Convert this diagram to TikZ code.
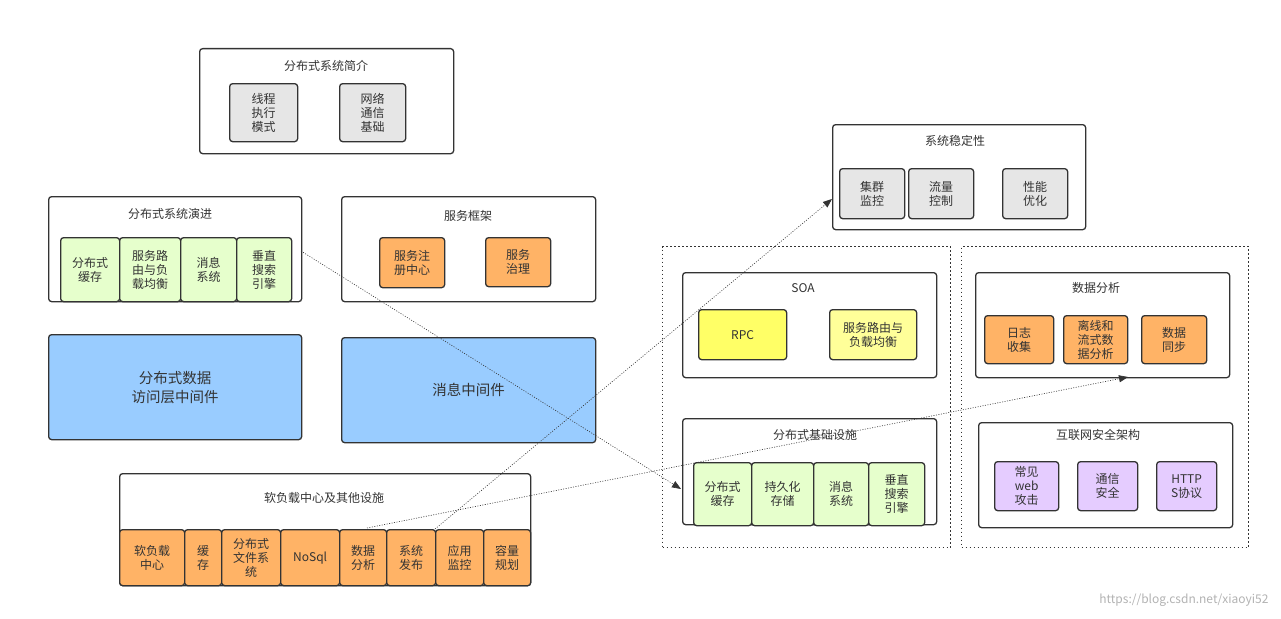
\documentclass[tikz,border=0pt]{standalone}
\usepackage{fontspec}
\setmainfont{Noto Sans CJK SC}
\usetikzlibrary{arrows.meta}
\definecolor{gr}{HTML}{E6E6E6}
\definecolor{gn}{HTML}{E6FFCC}
\definecolor{og}{HTML}{FFB366}
\definecolor{bl}{HTML}{99CCFF}
\definecolor{ye}{HTML}{FFFF66}
\definecolor{ly}{HTML}{FFFF99}
\definecolor{pu}{HTML}{E5CCFF}
\definecolor{ln}{HTML}{333333}
\newcommand\B[7]{\node[#1,anchor=north west,minimum width={(#5-#3)*1pt},minimum height={(#6-#4)*1pt}] (#2) at (#3pt,-#4pt) {#7};}
\newcommand\T[4]{\node[ttl] (#1) at (#2pt,-#3pt) {#4};}
\begin{document}
\begin{tikzpicture}[
  bx/.style={draw=ln,line width=1.3pt,rounded corners=3pt,fill=white,inner sep=0pt},
  ch/.style={draw=ln,line width=1.3pt,rounded corners=3pt,inner sep=1pt,align=center,font=\fontsize{12}{14}\selectfont,text=ln},
  ttl/.style={font=\fontsize{12}{14}\selectfont,text=ln},
  dbox/.style={draw=ln,line width=1.3pt,dash pattern=on 1.5pt off 2.5pt,inner sep=0pt},
  conn/.style={draw=ln,line width=0.6pt,dash pattern=on 1pt off 1.5pt,-{Triangle[length=9pt,width=7pt]}}
]
\useasboundingbox (0,0) rectangle (1281pt,-618pt);
% group A
\B{bx}{A}{199}{48}{453}{153}{}
\T{At}{326}{66}{分布式系统简介}
\B{ch,fill=gr}{A1}{229}{83}{297}{141}{线程\\执行\\模式}
\B{ch,fill=gr}{A2}{339}{83}{405}{141}{网络\\通信\\基础}
% group B
\B{bx}{Bx}{48}{196}{301}{301}{}
\T{Bt}{170}{214}{分布式系统演进}
\B{ch,fill=gn}{B1}{60}{237}{119}{301}{分布式\\缓存}
\B{ch,fill=gn}{B2}{119}{237}{180}{301}{服务路\\由与负\\载均衡}
\B{ch,fill=gn}{B3}{180}{237}{236}{301}{消息\\系统}
\B{ch,fill=gn}{B4}{236}{237}{291}{301}{垂直\\搜索\\引擎}
% group C
\B{bx}{Cx}{341}{196}{595}{301}{}
\T{Ct}{468}{216}{服务框架}
\B{ch,fill=og}{C1}{379}{237}{444}{287}{服务注\\册中心}
\B{ch,fill=og}{C2}{485}{237}{550}{286}{服务\\治理}
% blue
\B{ch,fill=bl,font=\fontsize{14.5}{19}\selectfont}{D}{48}{334}{301}{439}{分布式数据\\访问层中间件}
\B{ch,fill=bl,font=\fontsize{14.5}{19}\selectfont}{E}{341}{337}{595}{442}{消息中间件}
% group F
\B{bx}{Fx}{119}{473}{530}{585}{}
\T{Ft}{324}{498}{软负载中心及其他设施}
\B{ch,fill=og}{F1}{119}{529}{184}{585}{软负载\\中心}
\B{ch,fill=og}{F2}{184}{529}{221}{585}{缓\\存}
\B{ch,fill=og}{F3}{221}{529}{280}{585}{分布式\\文件系\\统}
\B{ch,fill=og}{F4}{280}{529}{339}{585}{NoSql}
\B{ch,fill=og}{F5}{339}{529}{386}{585}{数据\\分析}
\B{ch,fill=og}{F6}{386}{529}{435}{585}{系统\\发布}
\B{ch,fill=og}{F7}{435}{529}{483}{585}{应用\\监控}
\B{ch,fill=og}{F8}{483}{529}{530}{585}{容量\\规划}
% group G
\B{bx}{Gx}{832}{124}{1085}{229}{}
\T{Gt}{955}{141}{系统稳定性}
\B{ch,fill=gr}{G1}{839}{168}{904}{218}{集群\\监控}
\B{ch,fill=gr}{G2}{908}{168}{973}{218}{流量\\控制}
\B{ch,fill=gr}{G3}{1002}{168}{1067}{218}{性能\\优化}
% dotted regions
\B{dbox}{L}{662}{246}{950}{547}{}
\B{dbox}{R}{961}{246}{1248}{547}{}
% SOA
\B{bx}{Sx}{682}{272}{936}{377}{}
\T{St}{803}{288}{SOA}
\B{ch,fill=ye}{S1}{698}{309}{786}{359}{RPC}
\B{ch,fill=ly}{S2}{829}{309}{916}{359}{服务路由与\\负载均衡}
% infra
\B{bx}{Ix}{682}{418}{936}{524}{}
\T{It}{815}{435}{分布式基础设施}
\B{ch,fill=gn}{I1}{693}{462}{751}{525}{分布式\\缓存}
\B{ch,fill=gn}{I2}{751}{462}{813}{525}{持久化\\存储}
\B{ch,fill=gn}{I3}{813}{462}{868}{525}{消息\\系统}
\B{ch,fill=gn}{I4}{868}{462}{924}{525}{垂直\\搜索\\引擎}
% data analysis
\B{bx}{Dx}{975}{272}{1229}{377}{}
\T{Dt}{1096}{288}{数据分析}
\B{ch,fill=og}{D1}{984}{315}{1053}{363}{日志\\收集}
\B{ch,fill=og}{D2}{1063}{315}{1127}{363}{离线和\\流式数\\据分析}
\B{ch,fill=og}{D3}{1141}{315}{1206}{363}{数据\\同步}
% security
\B{bx}{Nx}{978}{422}{1232}{527}{}
\T{Nt}{1098}{435}{互联网安全架构}
\B{ch,fill=pu}{N1}{994}{461}{1058}{510}{常见\\web\\攻击}
\B{ch,fill=pu}{N2}{1077}{461}{1137}{510}{通信\\安全}
\B{ch,fill=pu}{N3}{1156}{461}{1216}{510}{HTTP\\S协议}
% connectors
\coordinate (p1) at (301pt,-251pt);
\coordinate (p2) at (681pt,-489pt);
\coordinate (p3) at (435pt,-529pt);
\coordinate (p4) at (832pt,-199pt);
\coordinate (p5) at (367pt,-528pt);
\coordinate (p6) at (1128pt,-377pt);
\draw[conn] (p1) -- (p2);
\draw[conn] (p3) -- (p4);
\draw[conn] (p5) -- (p6);
\node[text=gray!60,font=\fontsize{12}{14}\selectfont,anchor=east] (wm) at (1272pt,-600pt) {https://blog.csdn.net/xiaoyi52};
\end{tikzpicture}
\end{document}
